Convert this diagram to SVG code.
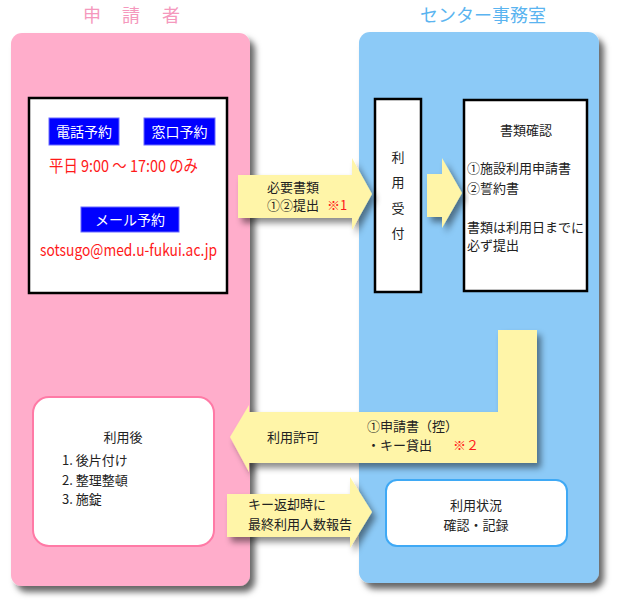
<svg xmlns="http://www.w3.org/2000/svg" width="620" height="608" viewBox="0 0 620 608">
<defs>
<filter id="sh" x="-10%" y="-10%" width="130%" height="130%">
<feDropShadow dx="5" dy="6" stdDeviation="3" flood-color="#000" flood-opacity="0.6"/>
</filter>
<filter id="sh2" x="-10%" y="-20%" width="130%" height="150%">
<feDropShadow dx="4" dy="5" stdDeviation="3" flood-color="#000" flood-opacity="0.45"/>
</filter>
<style>
text{font-family:"Noto Sans CJK JP","Noto Sans",sans-serif;}
.t{font-size:13px;fill:#222;}
.red{fill:#ff1a1a;}
.btn{fill:#0000ff;stroke:#6a6aff;stroke-width:1;}
.bt{font-size:14px;fill:#fff;text-anchor:middle;}
.box{fill:#fff;stroke:#000;stroke-width:2.5;}
.arr{fill:#fff5a8;filter:url(#sh2);}
.title{font-size:18px;}
</style>
</defs>
<rect width="620" height="608" fill="#fff"/>
<g id="title-applicant"><text class="title" x="83 122 162" y="22" fill="#f598bd">申請者</text></g>
<g id="title-center"><text class="title" x="483" y="22" fill="#5ab4f0" text-anchor="middle">センター事務室</text></g>
<g id="lane-applicant"><rect x="11" y="33" width="239" height="553" rx="11" fill="#ffadcb" filter="url(#sh)"/></g>
<g id="lane-center"><rect x="359" y="32" width="240" height="551" rx="11" fill="#8ccaf7" filter="url(#sh)"/></g>
<g id="reserve">
<rect class="box" x="29" y="98" width="198" height="195"/>
<rect class="btn" x="49" y="118" width="70" height="27"/>
<text class="bt" x="84" y="137">電話予約</text>
<rect class="btn" x="144" y="118" width="71" height="27"/>
<text class="bt" x="179.5" y="137">窓口予約</text>
<text x="49" y="172" font-size="16.5" class="red" textLength="149" lengthAdjust="spacingAndGlyphs">平日 9:00 ～ 17:00 のみ</text>
<rect class="btn" x="81" y="207" width="98" height="25"/>
<text class="bt" x="130" y="225" font-size="15">メール予約</text>
<text x="40" y="256" font-size="16.5" class="red" textLength="177" lengthAdjust="spacingAndGlyphs">sotsugo@med.u-fukui.ac.jp</text>
</g>
<g id="uketsuke">
<rect class="box" x="375" y="99" width="46" height="193"/>
<g class="t" text-anchor="middle">
<text x="398" y="162">利</text>
<text x="398" y="187">用</text>
<text x="398" y="213">受</text>
<text x="398" y="238">付</text>
</g>
</g>
<g id="shorui">
<rect class="box" x="464" y="100" width="123" height="191"/>
<text class="t" x="526" y="135" text-anchor="middle">書類確認</text>
<text class="t" x="467" y="173">①施設利用申請書</text>
<text class="t" x="467" y="193">②誓約書</text>
<text class="t" x="467" y="232">書類は利用日までに</text>
<text class="t" x="467" y="250">必ず提出</text>
</g>
<g id="after">
<rect x="33" y="397" width="181" height="149" rx="16" fill="#fff" stroke="#ff7aa6" stroke-width="2"/>
<text class="t" x="123" y="442" text-anchor="middle">利用後</text>
<text class="t" x="62" y="465">1. 後片付け</text>
<text class="t" x="62" y="485">2. 整理整頓</text>
<text class="t" x="62" y="504">3. 施錠</text>
</g>
<g id="status">
<rect x="386" y="480" width="181" height="66" rx="11" fill="#fff" stroke="#3fa9f5" stroke-width="2"/>
<text class="t" x="476" y="510" text-anchor="middle">利用状況</text>
<text class="t" x="476" y="530" text-anchor="middle">確認・記録</text>
</g>
<g id="connectors">
<path class="arr" d="M238,175 L352,175 L352,158 L372,194 L352,230 L352,218 L238,218 Z"/>
<text class="t" x="267" y="192">必要書類</text>
<text class="t" x="267" y="210">①②提出</text>
<text class="t red" x="327" y="210">※1</text>
<path class="arr" d="M427,174 L442,174 L442,158 L462,193 L442,228 L442,217 L427,217 Z"/>
<path class="arr" d="M498,330 L537,330 L537,463 L249,463 L249,472 L230,437 L249,405 L249,412 L498,412 Z"/>
<text class="t" x="267" y="442">利用許可</text>
<text class="t" x="367" y="431">①申請書（控）</text>
<text class="t" x="367" y="450">・キー貸出</text>
<text class="t red" x="453" y="450">※２</text>
<path class="arr" d="M227,494 L350,494 L350,477 L372,512 L350,548 L350,537 L227,537 Z"/>
<text class="t" x="248" y="509">キー返却時に</text>
<text class="t" x="248" y="529">最終利用人数報告</text>
</g>
</svg>
